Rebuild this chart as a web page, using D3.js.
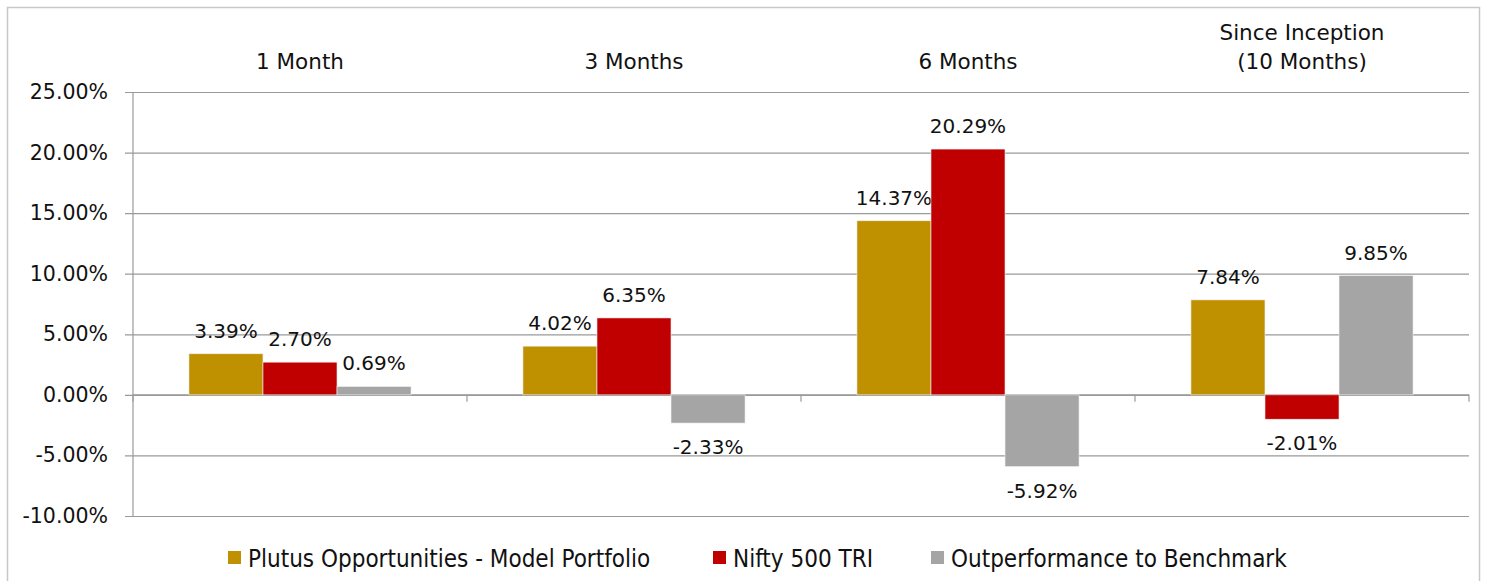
<!DOCTYPE html>
<html>
<head>
<meta charset="utf-8">
<script src="https://cdn.jsdelivr.net/npm/d3@7"></script>
<style>
  body { margin: 0; background: #fff; }
  svg text { font-family: "DejaVu Sans", sans-serif; fill: #111; }
  .legend text { font-family: "DejaVu Sans Condensed", "DejaVu Sans", sans-serif; font-stretch: condensed; }
</style>
</head>
<body>
<svg id="chart" width="1485" height="581"></svg>
<script>
// chart data
const periods = [["1 Month"], ["3 Months"], ["6 Months"], ["Since Inception", "(10 Months)"]];
const seriesNames = ["Plutus Opportunities - Model Portfolio", "Nifty 500 TRI", "Outperformance to Benchmark"];
const seriesColors = ["#BF9000", "#C00000", "#A5A5A5"];
const portfolio = [3.39, 4.02, 14.37, 7.84];
const nifty = [2.70, 6.35, 20.29, -2.01];
const outperf = [0.69, -2.33, -5.92, 9.85];
const yTicks = [-10, -5, 0, 5, 10, 15, 20, 25];

const svg = d3.select("#chart");
const width = 1485, height = 581;
const margin = { top: 92, right: 16, bottom: 65, left: 133 };

// outer frame
svg.append("rect")
  .attr("x", 7.5).attr("y", 7.5)
  .attr("width", 1472).attr("height", 600)
  .attr("fill", "none").attr("stroke", "#c8c8c8").attr("stroke-width", 1.5);

const x = d3.scaleBand()
  .domain(d3.range(periods.length))
  .range([margin.left, width - margin.right])
  .paddingInner(0).paddingOuter(0);

const y = d3.scaleLinear()
  .domain([-10, 25])
  .range([516, 92]);

const groupW = x.bandwidth() * 0.665;
const xs = d3.scaleBand()
  .domain(d3.range(seriesNames.length))
  .range([0, groupW]);

// gridlines + y axis
const yAxis = d3.axisLeft(y)
  .tickValues(yTicks)
  .tickSize(-(width - margin.right - margin.left + 8))
  .tickFormat(d => d.toFixed(2) + "%");

const gy = svg.append("g")
  .attr("transform", `translate(${margin.left - 8},0)`)
  .call(yAxis);
gy.select(".domain").remove();
gy.selectAll(".tick line").attr("stroke", "#9a9a9a").attr("stroke-width", 1.2);
gy.selectAll(".tick text")
  .attr("x", -17)
  .style("font-size", "20.5px")
  .style("font-family", "DejaVu Sans, sans-serif")
  .attr("fill", "#111");

// vertical axis line
svg.append("line")
  .attr("x1", margin.left).attr("x2", margin.left)
  .attr("y1", y(25)).attr("y2", y(-10))
  .attr("stroke", "#9a9a9a").attr("stroke-width", 1.2);

// zero axis with category tick marks
svg.append("line")
  .attr("x1", margin.left).attr("x2", width - margin.right)
  .attr("y1", y(0)).attr("y2", y(0))
  .attr("stroke", "#9a9a9a").attr("stroke-width", 1.2);
svg.append("g").selectAll("line")
  .data(d3.range(periods.length + 1))
  .join("line")
  .attr("x1", i => margin.left + i * x.bandwidth())
  .attr("x2", i => margin.left + i * x.bandwidth())
  .attr("y1", y(0)).attr("y2", y(0) + 7)
  .attr("stroke", "#9a9a9a").attr("stroke-width", 1.2);

// category labels at top
const cat = svg.append("g").selectAll("text")
  .data(periods)
  .join("text")
  .attr("text-anchor", "middle")
  .style("font-size", "21.5px")
  .attr("x", (d, i) => x(i) + x.bandwidth() / 2)
  .attr("y", d => d.length > 1 ? 40 : 69);
cat.selectAll("tspan")
  .data(d => d)
  .join("tspan")
  .attr("x", function () { return this.parentNode.getAttribute("x"); })
  .attr("dy", (d, j) => j === 0 ? 0 : 29)
  .text(d => d);

// bars
const allSeries = [portfolio, nifty, outperf];
const groups = svg.append("g").selectAll("g")
  .data(periods)
  .join("g")
  .attr("transform", (d, i) => `translate(${x(i) + (x.bandwidth() - groupW) / 2},0)`);

groups.each(function (d, i) {
  const g = d3.select(this);
  allSeries.forEach((s, k) => {
    const v = s[i];
    g.append("rect")
      .attr("x", xs(k))
      .attr("width", xs.bandwidth())
      .attr("y", y(Math.max(0, v)))
      .attr("height", Math.abs(y(v) - y(0)))
      .attr("fill", seriesColors[k])
      .attr("stroke", "#f2f2f2").attr("stroke-width", 0.6);
    g.append("text")
      .attr("x", xs(k) + xs.bandwidth() / 2)
      .attr("y", v >= 0 ? y(v) - 16 : y(v) + 31)
      .attr("text-anchor", "middle")
      .style("font-size", "20px")
      .text(v.toFixed(2) + "%");
  });
});

// legend
const legendItems = [
  { name: seriesNames[0], color: seriesColors[0], x: 228 },
  { name: seriesNames[1], color: seriesColors[1], x: 713 },
  { name: seriesNames[2], color: seriesColors[2], x: 931 }
];
const legend = svg.append("g").attr("class", "legend")
  .selectAll("g")
  .data(legendItems)
  .join("g")
  .attr("transform", d => `translate(${d.x},551)`);
legend.append("rect")
  .attr("width", 13).attr("height", 13)
  .attr("fill", d => d.color);
legend.append("text")
  .attr("x", 20).attr("y", 16)
  .style("font-size", "24px")
  .text(d => d.name);
</script>
</body>
</html>
